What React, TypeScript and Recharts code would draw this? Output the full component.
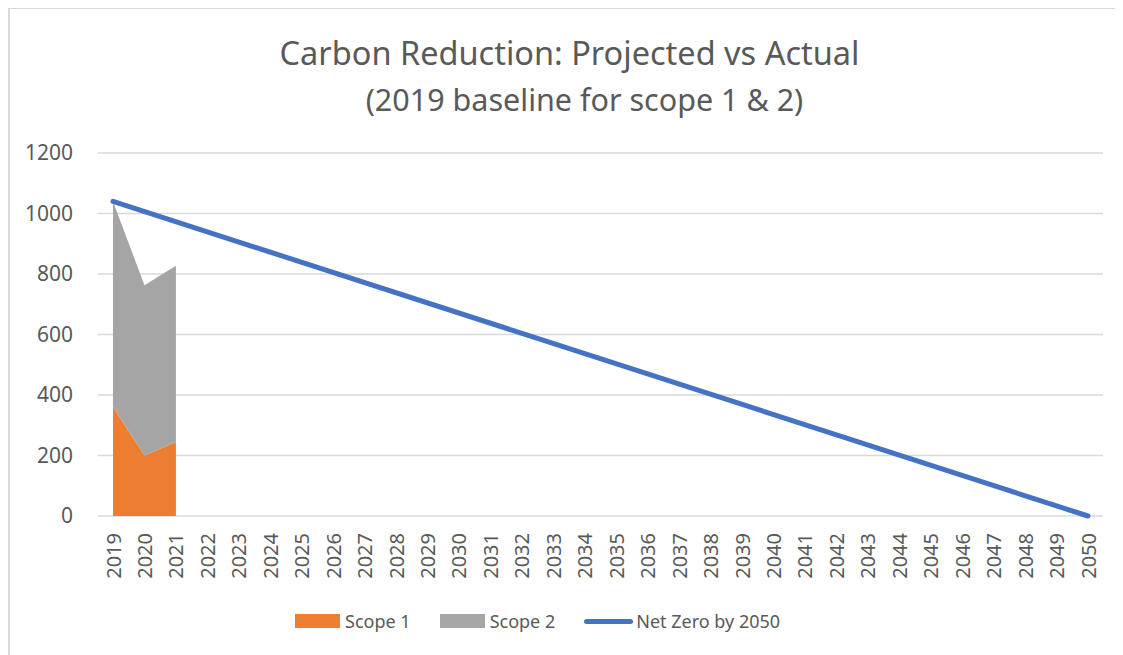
import React from 'react'
import { ComposedChart, Area, Line, XAxis, YAxis, CartesianGrid, Legend } from 'recharts'

const years = [
  2019, 2020, 2021, 2022, 2023, 2024, 2025, 2026, 2027, 2028, 2029, 2030, 2031, 2032, 2033, 2034,
  2035, 2036, 2037, 2038, 2039, 2040, 2041, 2042, 2043, 2044, 2045, 2046, 2047, 2048, 2049, 2050,
]
// actuals only reported for the first three years
const scope1 = [360, 200, 245]
const scope2 = [680, 563, 582]
// straight target line: baseline total in 2019 down to zero in 2050
const netZeroStart = 1040
const netZeroEnd = 0
const yTicks = [0, 200, 400, 600, 800, 1000, 1200]
const legendOrder = ['Scope 1', 'Scope 2', 'Net Zero by 2050']

const data = years.map((year, i) => ({
  year: String(year),
  scope1: i < scope1.length ? scope1[i] : null,
  scope2: i < scope2.length ? scope2[i] : null,
  netZero: i === 0 ? netZeroStart : i === years.length - 1 ? netZeroEnd : null,
}))

const FONT = '"Noto Sans", sans-serif'
const TEXT = '#595959'

function YearTick({ x, y, payload }: any) {
  return (
    <g transform={`translate(${x},${y + 9})`}>
      <text
        transform="rotate(-90)"
        textAnchor="end"
        dominantBaseline="central"
        fill={TEXT}
        fontSize={20}
        fontFamily={FONT}
      >
        {payload.value}
      </text>
    </g>
  )
}

function LegendBox({ payload }: any) {
  const items = [...(payload || [])].sort(
    (a: any, b: any) => legendOrder.indexOf(a.value) - legendOrder.indexOf(b.value)
  )
  return (
    <div style={{ display: 'flex', alignItems: 'center', marginLeft: 285, marginTop: 9, fontFamily: FONT, fontSize: 18, color: TEXT }}>
      {items.map((p: any) => (
        <div key={p.value} style={{ display: 'flex', alignItems: 'center', marginRight: 29 }}>
          {p.type === 'line' ? (
            <span style={{ width: 49, height: 5, borderRadius: 3, background: p.color, marginRight: 3 }} />
          ) : (
            <span style={{ width: 45, height: 14, background: p.color, marginRight: 5 }} />
          )}
          <span>{p.value}</span>
        </div>
      ))}
    </div>
  )
}

export default function App() {
  return (
    <div
      style={{
        position: 'relative',
        width: 1115,
        height: 647,
        borderTop: '1px solid #d9d9d9',
        borderLeft: '2px solid #d9d9d9',
        background: '#fff',
      }}
    >
      <div
        style={{
          position: 'absolute',
          top: 20,
          left: 2,
          width: 1115,
          textAlign: 'center',
          fontFamily: FONT,
          fontSize: 30.5,
          lineHeight: '47px',
          color: TEXT,
        }}
      >
        <div style={{ fontSize: 32.5 }}>Carbon Reduction: Projected vs Actual</div>
        <div style={{ paddingLeft: 30 }}>(2019 baseline for scope 1 &amp; 2)</div>
      </div>
      <ComposedChart width={1115} height={646} data={data} margin={{ top: 144, right: 22, left: 0, bottom: 15 }}>
        <CartesianGrid vertical={false} stroke="#d9d9d9" strokeWidth={1.5} />
        <XAxis
          dataKey="year"
          interval={0}
          axisLine={false}
          tickLine={false}
          padding={{ left: 15, right: 15 }}
          height={84}
          tick={<YearTick />}
        />
        <YAxis
          domain={[0, 1200]}
          ticks={yTicks}
          width={88}
          axisLine={false}
          tickLine={false}
          tickMargin={19}
          tick={{ fill: TEXT, fontSize: 21, fontFamily: FONT }}
        />
        <Area
          dataKey="scope1"
          name="Scope 1"
          type="linear"
          stackId="a"
          fill="#ED7D31"
          fillOpacity={1}
          stroke="none"
          legendType="rect"
          isAnimationActive={false}
        />
        <Area
          dataKey="scope2"
          name="Scope 2"
          type="linear"
          stackId="a"
          fill="#A5A5A5"
          fillOpacity={1}
          stroke="none"
          legendType="rect"
          isAnimationActive={false}
        />
        <Line
          dataKey="netZero"
          name="Net Zero by 2050"
          type="linear"
          stroke="#4472C4"
          strokeWidth={5}
          strokeLinecap="round"
          dot={false}
          connectNulls
          legendType="line"
          isAnimationActive={false}
        />
        <Legend verticalAlign="bottom" height={40} content={<LegendBox />} />
      </ComposedChart>
    </div>
  )
}
